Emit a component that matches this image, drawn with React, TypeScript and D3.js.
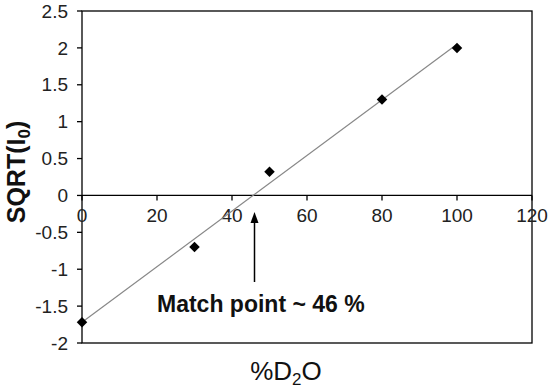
import React from "react";
import * as d3 from "d3";

const xValues = [0, 30, 50, 80, 100];
const yValues = [-1.72, -0.7, 0.32, 1.3, 2.0];
const xTicks = [0, 20, 40, 60, 80, 100, 120];
const yTicks = [-2, -1.5, -1, -0.5, 0, 0.5, 1, 1.5, 2, 2.5];
const matchPoint = 46;

const W = 550, H = 390;
const left = 82, right = 532, top = 11, bottom = 343;

export default function App() {
  const x = d3.scaleLinear().domain([0, 120]).range([left, right]);
  const y = d3.scaleLinear().domain([-2, 2.5]).range([bottom, top]);
  const mx = d3.mean(xValues)!, my = d3.mean(yValues)!;
  const sxy = d3.sum(xValues.map((v, i) => (v - mx) * (yValues[i] - my)));
  const sxx = d3.sum(xValues.map((v) => (v - mx) ** 2));
  const slope = sxy / sxx, icpt = my - slope * mx;
  const trend = d3.line<number>().x((v) => x(v)).y((v) => y(icpt + slope * v));
  const diamond = d3.symbol().type(d3.symbolDiamond2).size(70)();
  const font = "Liberation Sans, Arial, sans-serif";
  const y0 = y(0);
  const ax = x(matchPoint);
  return (
    <svg width={W} height={H} style={{ position: "absolute", left: 0, top: 0, background: "#fff" }} fontFamily={font}>
      <rect x={left} y={top} width={right - left} height={bottom - top} fill="none" stroke="#000" strokeWidth={1.3} />
      {yTicks.map((t) => (
        <g key={"y" + t}>
          <line x1={left - 5} x2={left} y1={y(t)} y2={y(t)} stroke="#000" strokeWidth={1.3} />
          <text x={left - 14} y={y(t)} dy="0.35em" textAnchor="end" fontSize={19} fill="#222">{t}</text>
        </g>
      ))}
      <line x1={left} x2={right} y1={y0} y2={y0} stroke="#000" strokeWidth={1.3} />
      {xTicks.map((t) => (
        <g key={"x" + t}>
          <line x1={x(t)} x2={x(t)} y1={y0} y2={y0 + 5} stroke="#000" strokeWidth={1.3} />
          <text x={x(t)} y={y0 + 27} textAnchor="middle" fontSize={19} fill="#222">{t}</text>
        </g>
      ))}
      <path d={trend([0, 100]) ?? ""} fill="none" stroke="#888" strokeWidth={1.2} />
      {xValues.map((v, i) => (
        <path key={i} d={diamond ?? ""} transform={`translate(${x(v)},${y(yValues[i])})`} fill="#000" />
      ))}
      <line x1={ax} x2={ax} y1={282} y2={221} stroke="#000" strokeWidth={1.5} />
      <path d={`M${ax},${212} L${ax - 4},${223} L${ax + 4},${223} Z`} fill="#000" />
      <text x={157} y={312} fontSize={23} fontWeight="bold" fill="#111">Match point ~ 46 %</text>
      <text x={286} y={380} textAnchor="middle" fontSize={26} fill="#111">
        %D<tspan fontSize={17} dy={5}>2</tspan><tspan dy={-5}>O</tspan>
      </text>
      <text transform={`translate(25,${(top + bottom) / 2 - 5}) rotate(-90)`} textAnchor="middle" fontSize={25} fontWeight="bold" fill="#111">
        SQRT(I<tspan fontSize={17} dy={5}>0</tspan><tspan dy={-5}>)</tspan>
      </text>
    </svg>
  );
}
